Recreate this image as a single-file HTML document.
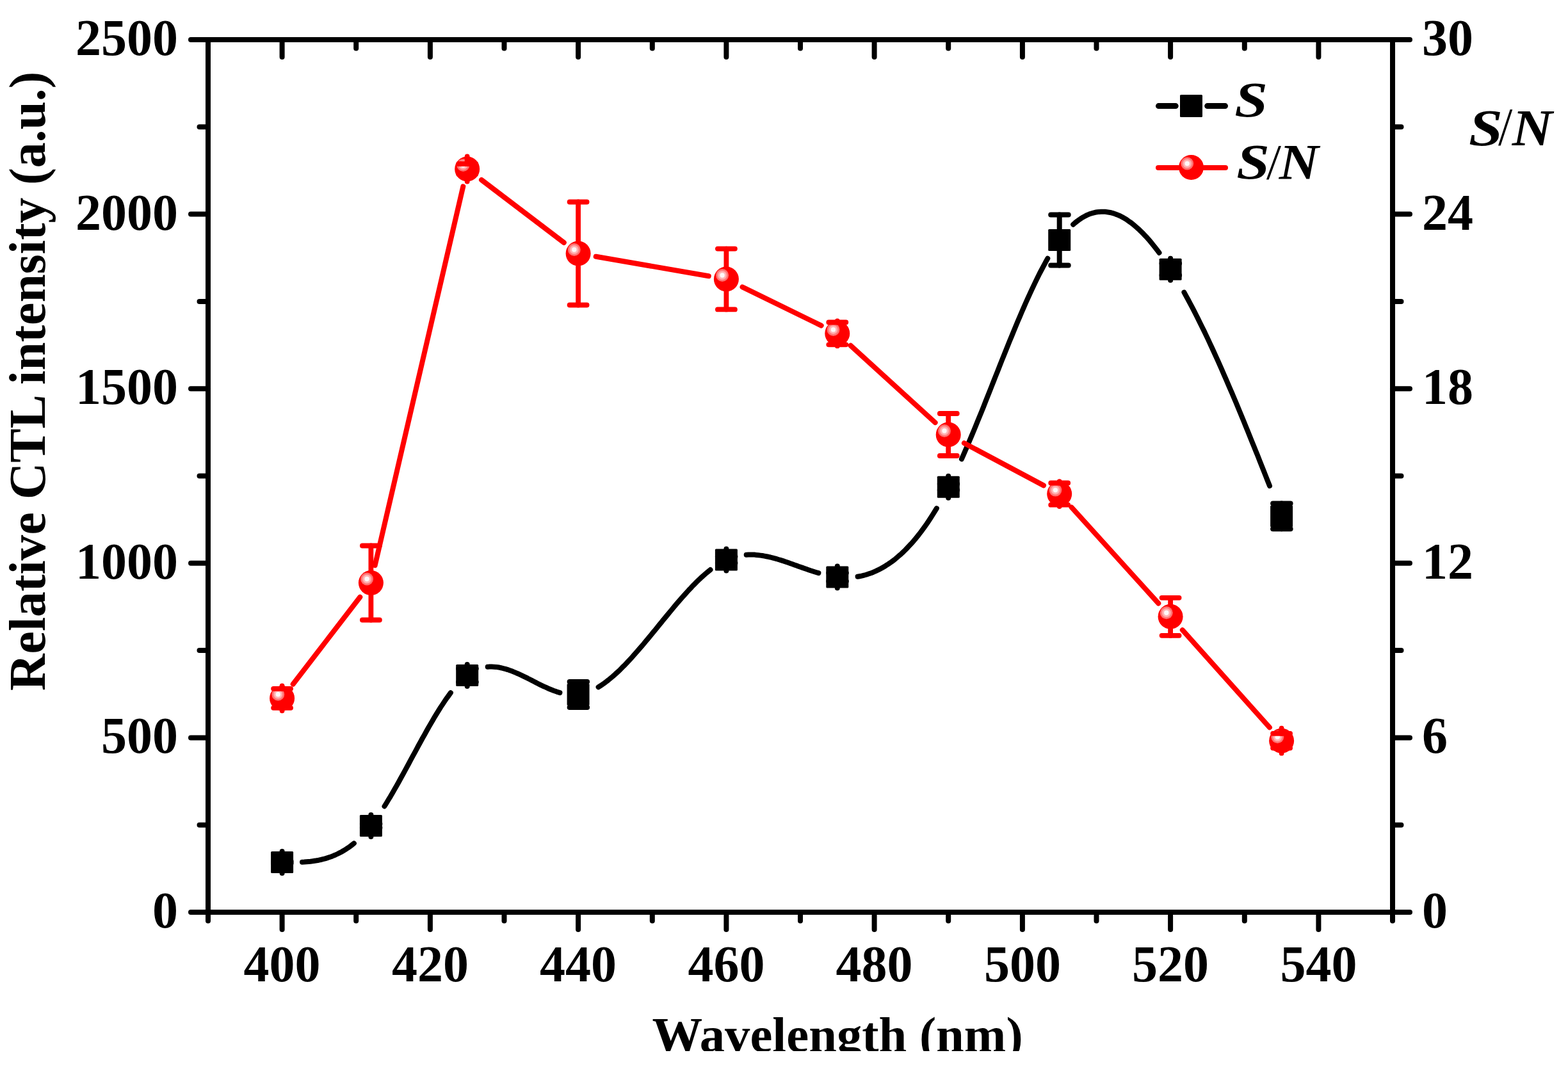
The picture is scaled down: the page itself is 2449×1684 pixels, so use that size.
<!DOCTYPE html>
<html><head><meta charset="utf-8"><title>CTL intensity vs wavelength</title>
<style>
html,body{margin:0;padding:0;background:#fff;}
body{width:2449px;height:1684px;overflow:hidden;}
svg{display:block;}
text{font-family:"Liberation Serif","Times New Roman",serif;font-weight:bold;font-size:80px;fill:#000;}
.it{font-style:italic;}
</style></head><body>
<svg width="2449" height="1684" viewBox="0 0 2449 1684">
<defs><clipPath id="clipb"><rect x="0" y="0" width="2449" height="1642"/></clipPath></defs>
<rect width="2449" height="1684" fill="#fff"/>
<g stroke="#000" stroke-width="8" stroke-linecap="round" fill="none">
<line x1="325" y1="1425.0" x2="298" y2="1425.0"/>
<line x1="325" y1="1288.7" x2="311.5" y2="1288.7"/>
<line x1="325" y1="1152.4" x2="298" y2="1152.4"/>
<line x1="325" y1="1016.1" x2="311.5" y2="1016.1"/>
<line x1="325" y1="879.8" x2="298" y2="879.8"/>
<line x1="325" y1="743.5" x2="311.5" y2="743.5"/>
<line x1="325" y1="607.2" x2="298" y2="607.2"/>
<line x1="325" y1="470.9" x2="311.5" y2="470.9"/>
<line x1="325" y1="334.6" x2="298" y2="334.6"/>
<line x1="325" y1="198.3" x2="311.5" y2="198.3"/>
<line x1="325" y1="62.0" x2="298" y2="62.0"/>
<line x1="2175" y1="1425.0" x2="2202" y2="1425.0"/>
<line x1="2175" y1="1288.7" x2="2188.5" y2="1288.7"/>
<line x1="2175" y1="1152.4" x2="2202" y2="1152.4"/>
<line x1="2175" y1="1016.1" x2="2188.5" y2="1016.1"/>
<line x1="2175" y1="879.8" x2="2202" y2="879.8"/>
<line x1="2175" y1="743.5" x2="2188.5" y2="743.5"/>
<line x1="2175" y1="607.2" x2="2202" y2="607.2"/>
<line x1="2175" y1="470.9" x2="2188.5" y2="470.9"/>
<line x1="2175" y1="334.6" x2="2202" y2="334.6"/>
<line x1="2175" y1="198.3" x2="2188.5" y2="198.3"/>
<line x1="2175" y1="62.0" x2="2202" y2="62.0"/>
<line x1="325.0" y1="1425" x2="325.0" y2="1438.5"/>
<line x1="325.0" y1="62" x2="325.0" y2="75.5"/>
<line x1="440.6" y1="1425" x2="440.6" y2="1452"/>
<line x1="440.6" y1="62" x2="440.6" y2="89"/>
<line x1="556.2" y1="1425" x2="556.2" y2="1438.5"/>
<line x1="556.2" y1="62" x2="556.2" y2="75.5"/>
<line x1="671.9" y1="1425" x2="671.9" y2="1452"/>
<line x1="671.9" y1="62" x2="671.9" y2="89"/>
<line x1="787.5" y1="1425" x2="787.5" y2="1438.5"/>
<line x1="787.5" y1="62" x2="787.5" y2="75.5"/>
<line x1="903.1" y1="1425" x2="903.1" y2="1452"/>
<line x1="903.1" y1="62" x2="903.1" y2="89"/>
<line x1="1018.8" y1="1425" x2="1018.8" y2="1438.5"/>
<line x1="1018.8" y1="62" x2="1018.8" y2="75.5"/>
<line x1="1134.4" y1="1425" x2="1134.4" y2="1452"/>
<line x1="1134.4" y1="62" x2="1134.4" y2="89"/>
<line x1="1250.0" y1="1425" x2="1250.0" y2="1438.5"/>
<line x1="1250.0" y1="62" x2="1250.0" y2="75.5"/>
<line x1="1365.6" y1="1425" x2="1365.6" y2="1452"/>
<line x1="1365.6" y1="62" x2="1365.6" y2="89"/>
<line x1="1481.2" y1="1425" x2="1481.2" y2="1438.5"/>
<line x1="1481.2" y1="62" x2="1481.2" y2="75.5"/>
<line x1="1596.9" y1="1425" x2="1596.9" y2="1452"/>
<line x1="1596.9" y1="62" x2="1596.9" y2="89"/>
<line x1="1712.5" y1="1425" x2="1712.5" y2="1438.5"/>
<line x1="1712.5" y1="62" x2="1712.5" y2="75.5"/>
<line x1="1828.1" y1="1425" x2="1828.1" y2="1452"/>
<line x1="1828.1" y1="62" x2="1828.1" y2="89"/>
<line x1="1943.8" y1="1425" x2="1943.8" y2="1438.5"/>
<line x1="1943.8" y1="62" x2="1943.8" y2="75.5"/>
<line x1="2059.4" y1="1425" x2="2059.4" y2="1452"/>
<line x1="2059.4" y1="62" x2="2059.4" y2="89"/>
<line x1="2175.0" y1="1425" x2="2175.0" y2="1438.5"/>
<line x1="2175.0" y1="62" x2="2175.0" y2="75.5"/>
</g>
<rect x="325" y="62" width="1850" height="1363" fill="none" stroke="#000" stroke-width="8"/>
<g style="font-size:81px"><text x="278" y="1449.0" text-anchor="end">0</text>
<text x="278" y="1176.4" text-anchor="end">500</text>
<text x="278" y="903.8" text-anchor="end">1000</text>
<text x="278" y="631.2" text-anchor="end">1500</text>
<text x="278" y="358.6" text-anchor="end">2000</text>
<text x="278" y="86.0" text-anchor="end">2500</text>
<text x="2221" y="1449.0">0</text>
<text x="2221" y="1176.4">6</text>
<text x="2221" y="903.8">12</text>
<text x="2221" y="631.2">18</text>
<text x="2221" y="358.6">24</text>
<text x="2221" y="86.0">30</text>
<text x="440.6" y="1532.5" text-anchor="middle">400</text>
<text x="671.9" y="1532.5" text-anchor="middle">420</text>
<text x="903.1" y="1532.5" text-anchor="middle">440</text>
<text x="1134.4" y="1532.5" text-anchor="middle">460</text>
<text x="1365.6" y="1532.5" text-anchor="middle">480</text>
<text x="1596.9" y="1532.5" text-anchor="middle">500</text>
<text x="1828.1" y="1532.5" text-anchor="middle">520</text>
<text x="2059.4" y="1532.5" text-anchor="middle">540</text></g>
<text x="0" y="0" transform="translate(70,1079) rotate(-90)" style="font-size:79.7px">Relative CTL intensity (a.u.)</text>
<g clip-path="url(#clipb)"><text x="1308" y="1642.5" text-anchor="middle" style="font-size:78.7px">Wavelength (nm)</text></g>
<text class="it" transform="translate(2294.12,227.20) scale(1.1894,1.0056)">S</text><text class="it" transform="translate(2343.22,227.16) scale(0.6707,1.0514)">/</text><text class="it" transform="translate(2361.66,227.20) scale(1.0905,0.9981)">N</text>
<!-- S series -->
<g stroke="#000" stroke-width="8" stroke-linecap="round" stroke-linejoin="round" fill="none">
<polyline points="472.0,1346.7 475.2,1346.6 478.5,1346.3 481.7,1346.0 484.9,1345.7 488.2,1345.3 491.4,1344.8 494.6,1344.3 497.9,1343.7 501.1,1343.0 504.3,1342.2 507.6,1341.4 510.8,1340.4 514.0,1339.3 517.3,1338.2 520.5,1336.9 523.8,1335.5 527.0,1334.0 530.2,1332.4 533.5,1330.7 536.7,1328.8 539.9,1326.8 543.2,1324.7 546.4,1322.4 549.6,1320.0 552.9,1317.4"/>
<polyline points="600.5,1259.5 603.6,1254.5 606.7,1249.3 609.9,1244.1 613.0,1238.7 616.1,1233.3 619.3,1227.8 622.4,1222.2 625.5,1216.5 628.7,1210.8 631.8,1205.1 634.9,1199.3 638.1,1193.5 641.2,1187.7 644.3,1181.9 647.5,1176.1 650.6,1170.3 653.7,1164.5 656.9,1158.8 660.0,1153.0 663.2,1147.4 666.3,1141.8 669.4,1136.2 672.6,1130.8 675.7,1125.4 678.8,1120.1 682.0,1114.9 685.1,1109.9 688.2,1104.9 691.4,1100.1 694.5,1095.4 697.6,1090.8 700.8,1086.5 703.9,1082.2"/>
<polyline points="761.7,1041.8 764.8,1041.6 768.0,1041.6 771.1,1041.7 774.2,1041.9 777.3,1042.3 780.5,1042.8 783.6,1043.5 786.7,1044.3 789.9,1045.1 793.0,1046.1 796.1,1047.2 799.3,1048.3 802.4,1049.6 805.5,1050.9 808.6,1052.2 811.8,1053.7 814.9,1055.1 818.0,1056.6 821.2,1058.2 824.3,1059.7 827.4,1061.3 830.6,1062.9 833.7,1064.5 836.8,1066.1 839.9,1067.7 843.1,1069.3 846.2,1070.8 849.3,1072.3 852.5,1073.7 855.6,1075.2 858.7,1076.5 861.9,1077.8 865.0,1079.0 868.1,1080.1 871.2,1081.2 874.4,1082.1"/>
<polyline points="934.6,1073.3 937.7,1071.3 940.8,1069.3 943.8,1067.2 946.9,1064.9 950.0,1062.5 953.0,1060.0 956.1,1057.5 959.2,1054.8 962.2,1052.0 965.3,1049.2 968.4,1046.3 971.4,1043.2 974.5,1040.2 977.6,1037.0 980.6,1033.8 983.7,1030.5 986.8,1027.1 989.8,1023.7 992.9,1020.2 996.0,1016.7 999.0,1013.2 1002.1,1009.6 1005.2,1006.0 1008.2,1002.3 1011.3,998.6 1014.4,994.9 1017.4,991.2 1020.5,987.4 1023.6,983.7 1026.6,979.9 1029.7,976.1 1032.8,972.4 1035.8,968.6 1038.9,964.9 1042.0,961.1 1045.0,957.4 1048.1,953.7 1051.2,950.0 1054.2,946.3 1057.3,942.7 1060.4,939.1 1063.4,935.6 1066.5,932.1 1069.6,928.7 1072.6,925.3 1075.7,921.9 1078.8,918.7 1081.8,915.4 1084.9,912.3 1088.0,909.2 1091.1,906.2 1094.1,903.3 1097.2,900.5 1100.3,897.8 1103.3,895.1 1106.4,892.6 1109.5,890.1"/>
<polyline points="1165.7,866.7 1168.8,866.5 1172.0,866.5 1175.1,866.5 1178.2,866.6 1181.3,866.9 1184.5,867.2 1187.6,867.6 1190.7,868.0 1193.9,868.6 1197.0,869.2 1200.1,869.8 1203.3,870.5 1206.4,871.3 1209.5,872.2 1212.7,873.0 1215.8,874.0 1218.9,874.9 1222.0,875.9 1225.2,876.9 1228.3,878.0 1231.4,879.1 1234.6,880.2 1237.7,881.3 1240.8,882.4 1244.0,883.5 1247.1,884.7 1250.2,885.8 1253.4,886.9 1256.5,888.0 1259.6,889.1 1262.8,890.2 1265.9,891.3 1269.0,892.3 1272.1,893.3 1275.3,894.3 1278.4,895.2"/>
<polyline points="1339.6,900.8 1342.7,900.2 1345.8,899.6 1348.8,898.8 1351.9,898.0 1355.0,897.1 1358.1,896.0 1361.2,894.9 1364.3,893.7 1367.3,892.4 1370.4,890.9 1373.5,889.4 1376.6,887.8 1379.7,886.0 1382.7,884.2 1385.8,882.2 1388.9,880.1 1392.0,878.0 1395.1,875.7 1398.2,873.3 1401.2,870.8 1404.3,868.1 1407.4,865.4 1410.5,862.5 1413.6,859.5 1416.6,856.4 1419.7,853.1 1422.8,849.8 1425.9,846.3 1429.0,842.7 1432.0,838.9 1435.1,835.1 1438.2,831.1 1441.3,826.9 1444.4,822.6 1447.5,818.2 1450.5,813.7 1453.6,809.0 1456.7,804.2 1459.8,799.2 1462.9,794.1"/>
<polyline points="1501.9,717.1 1505.0,710.1 1508.1,702.9 1511.3,695.6 1514.4,688.3 1517.5,680.9 1520.7,673.3 1523.8,665.8 1526.9,658.1 1530.0,650.4 1533.2,642.7 1536.3,634.9 1539.4,627.0 1542.5,619.2 1545.7,611.3 1548.8,603.4 1551.9,595.5 1555.0,587.6 1558.2,579.7 1561.3,571.8 1564.4,563.9 1567.6,556.1 1570.7,548.3 1573.8,540.5 1576.9,532.8 1580.1,525.1 1583.2,517.5 1586.3,510.0 1589.4,502.5 1592.6,495.1 1595.7,487.8 1598.8,480.6 1601.9,473.5 1605.1,466.4 1608.2,459.6 1611.3,452.8 1614.5,446.1 1617.6,439.6 1620.7,433.3 1623.8,427.0 1627.0,421.0 1630.1,415.1 1633.2,409.3 1636.3,403.8"/>
<polyline points="1676.1,350.7 1679.2,348.0 1682.4,345.5 1685.5,343.2 1688.6,341.1 1691.7,339.2 1694.9,337.5 1698.0,335.9 1701.1,334.6 1704.2,333.5 1707.4,332.6 1710.5,331.8 1713.6,331.3 1716.7,330.9 1719.9,330.7 1723.0,330.7 1726.1,330.8 1729.2,331.2 1732.4,331.7 1735.5,332.3 1738.6,333.2 1741.8,334.2 1744.9,335.4 1748.0,336.7 1751.1,338.2 1754.3,339.9 1757.4,341.7 1760.5,343.7 1763.6,345.9 1766.8,348.1 1769.9,350.6 1773.0,353.2 1776.1,355.9 1779.3,358.8 1782.4,361.8 1785.5,364.9 1788.6,368.2 1791.8,371.6 1794.9,375.2 1798.0,378.9 1801.1,382.7 1804.3,386.7 1807.4,390.7 1810.5,394.9"/>
<polyline points="1849.4,456.6 1852.5,462.3 1855.6,468.0 1858.7,473.8 1861.8,479.7 1864.9,485.7 1868.0,491.8 1871.1,497.9 1874.2,504.2 1877.3,510.5 1880.5,516.9 1883.6,523.4 1886.7,529.9 1889.8,536.6 1892.9,543.3 1896.0,550.0 1899.1,556.8 1902.2,563.7 1905.3,570.7 1908.4,577.7 1911.5,584.8 1914.6,591.9 1917.7,599.1 1920.8,606.3 1924.0,613.6 1927.1,621.0 1930.2,628.3 1933.3,635.8 1936.4,643.2 1939.5,650.8 1942.6,658.3 1945.7,665.9 1948.8,673.5 1951.9,681.2 1955.0,688.9 1958.1,696.6 1961.2,704.3 1964.4,712.1 1967.5,719.9 1970.6,727.7 1973.7,735.5 1976.8,743.4 1979.9,751.3 1983.0,759.1"/>
</g>
<g fill="#000"><rect x="423.1" y="1329.9" width="35" height="34" rx="1.5"/>
<rect x="561.9" y="1272.9" width="35" height="34" rx="1.5"/>
<rect x="712.2" y="1037.9" width="35" height="34" rx="1.5"/>
<rect x="885.6" y="1068.0" width="35" height="34" rx="1.5"/>
<rect x="1116.9" y="857.5" width="35" height="34" rx="1.5"/>
<rect x="1290.3" y="884.5" width="35" height="34" rx="1.5"/>
<rect x="1463.8" y="743.7" width="35" height="34" rx="1.5"/>
<rect x="1637.2" y="358.0" width="35" height="34" rx="1.5"/>
<rect x="1810.6" y="403.8" width="35" height="34" rx="1.5"/>
<rect x="1984.1" y="789.4" width="35" height="34" rx="1.5"/></g>
<g stroke="#000" stroke-width="8" stroke-linecap="round" fill="none"><line x1="440.6" y1="1329.9" x2="440.6" y2="1345.4"/><line x1="440.6" y1="1363.9" x2="440.6" y2="1348.4"/>
<line x1="427.1" y1="1345.4" x2="454.6" y2="1345.4"/><line x1="427.1" y1="1348.4" x2="454.6" y2="1348.4"/>
<line x1="579.4" y1="1272.9" x2="579.4" y2="1286.9"/><line x1="579.4" y1="1306.9" x2="579.4" y2="1292.9"/>
<line x1="565.9" y1="1286.9" x2="593.4" y2="1286.9"/><line x1="565.9" y1="1292.9" x2="593.4" y2="1292.9"/>
<line x1="729.7" y1="1037.9" x2="729.7" y2="1044.4"/><line x1="729.7" y1="1071.9" x2="729.7" y2="1065.4"/>
<line x1="716.2" y1="1044.4" x2="743.7" y2="1044.4"/><line x1="716.2" y1="1065.4" x2="743.7" y2="1065.4"/>
<line x1="903.1" y1="1068.0" x2="903.1" y2="1065.0"/><line x1="903.1" y1="1102.0" x2="903.1" y2="1105.0"/>
<line x1="889.6" y1="1065.0" x2="917.1" y2="1065.0"/><line x1="889.6" y1="1105.0" x2="917.1" y2="1105.0"/>
<line x1="1134.4" y1="857.5" x2="1134.4" y2="869.5"/><line x1="1134.4" y1="891.5" x2="1134.4" y2="879.5"/>
<line x1="1120.9" y1="869.5" x2="1148.4" y2="869.5"/><line x1="1120.9" y1="879.5" x2="1148.4" y2="879.5"/>
<line x1="1307.8" y1="884.5" x2="1307.8" y2="895.0"/><line x1="1307.8" y1="918.5" x2="1307.8" y2="908.0"/>
<line x1="1294.3" y1="895.0" x2="1321.8" y2="895.0"/><line x1="1294.3" y1="908.0" x2="1321.8" y2="908.0"/>
<line x1="1481.2" y1="743.7" x2="1481.2" y2="755.9"/><line x1="1481.2" y1="777.7" x2="1481.2" y2="765.5"/>
<line x1="1467.8" y1="755.9" x2="1495.2" y2="755.9"/><line x1="1467.8" y1="765.5" x2="1495.2" y2="765.5"/>
<line x1="1654.7" y1="358.0" x2="1654.7" y2="335.5"/><line x1="1654.7" y1="392.0" x2="1654.7" y2="414.5"/>
<line x1="1641.2" y1="335.5" x2="1668.7" y2="335.5"/><line x1="1641.2" y1="414.5" x2="1668.7" y2="414.5"/>
<line x1="1828.1" y1="403.8" x2="1828.1" y2="411.5"/><line x1="1828.1" y1="437.8" x2="1828.1" y2="430.1"/>
<line x1="1814.6" y1="411.5" x2="1842.1" y2="411.5"/><line x1="1814.6" y1="430.1" x2="1842.1" y2="430.1"/>
<line x1="2001.6" y1="789.4" x2="2001.6" y2="786.5"/><line x1="2001.6" y1="823.4" x2="2001.6" y2="826.3"/>
<line x1="1988.1" y1="786.5" x2="2015.6" y2="786.5"/><line x1="1988.1" y1="826.3" x2="2015.6" y2="826.3"/></g>
<!-- S/N series -->
<g stroke="#ff0000" stroke-width="8" stroke-linecap="round" fill="none">
<line x1="457.7" y1="1068.7" x2="562.3" y2="932.7"/>
<line x1="585.7" y1="883.2" x2="723.3" y2="291.3"/>
<line x1="752.0" y1="281.0" x2="880.8" y2="379.0"/>
<line x1="930.7" y1="400.8" x2="1106.8" y2="431.2"/>
<line x1="1159.5" y1="448.3" x2="1282.7" y2="508.6"/>
<line x1="1328.5" y1="539.8" x2="1460.6" y2="660.1"/>
<line x1="1505.9" y1="692.2" x2="1630.0" y2="758.4"/>
<line x1="1673.5" y1="792.4" x2="1809.3" y2="942.5"/>
<line x1="1846.8" y1="984.2" x2="1982.9" y2="1136.3"/>
</g>
<g><circle cx="440.6" cy="1090.8" r="19.5" fill="#ff0000"/><circle cx="434.3" cy="1084.8" r="10" fill="#ff6b6b"/><circle cx="434.3" cy="1084.8" r="8.6" fill="#ff7a7a"/><circle cx="434.3" cy="1084.8" r="7" fill="#ffaaaa"/><circle cx="434.3" cy="1084.8" r="5.6" fill="#ffb9b9"/><circle cx="434.3" cy="1084.8" r="3.7" fill="#fff8f8"/>
<circle cx="579.4" cy="910.5" r="19.5" fill="#ff0000"/><circle cx="573.1" cy="904.5" r="10" fill="#ff6b6b"/><circle cx="573.1" cy="904.5" r="8.6" fill="#ff7a7a"/><circle cx="573.1" cy="904.5" r="7" fill="#ffaaaa"/><circle cx="573.1" cy="904.5" r="5.6" fill="#ffb9b9"/><circle cx="573.1" cy="904.5" r="3.7" fill="#fff8f8"/>
<circle cx="729.7" cy="264.0" r="19.5" fill="#ff0000"/><circle cx="723.4" cy="258.0" r="10" fill="#ff6b6b"/><circle cx="723.4" cy="258.0" r="8.6" fill="#ff7a7a"/><circle cx="723.4" cy="258.0" r="7" fill="#ffaaaa"/><circle cx="723.4" cy="258.0" r="5.6" fill="#ffb9b9"/><circle cx="723.4" cy="258.0" r="3.7" fill="#fff8f8"/>
<circle cx="903.1" cy="396.0" r="19.5" fill="#ff0000"/><circle cx="896.8" cy="390.0" r="10" fill="#ff6b6b"/><circle cx="896.8" cy="390.0" r="8.6" fill="#ff7a7a"/><circle cx="896.8" cy="390.0" r="7" fill="#ffaaaa"/><circle cx="896.8" cy="390.0" r="5.6" fill="#ffb9b9"/><circle cx="896.8" cy="390.0" r="3.7" fill="#fff8f8"/>
<circle cx="1134.4" cy="436.0" r="19.5" fill="#ff0000"/><circle cx="1128.1" cy="430.0" r="10" fill="#ff6b6b"/><circle cx="1128.1" cy="430.0" r="8.6" fill="#ff7a7a"/><circle cx="1128.1" cy="430.0" r="7" fill="#ffaaaa"/><circle cx="1128.1" cy="430.0" r="5.6" fill="#ffb9b9"/><circle cx="1128.1" cy="430.0" r="3.7" fill="#fff8f8"/>
<circle cx="1307.8" cy="520.9" r="19.5" fill="#ff0000"/><circle cx="1301.5" cy="514.9" r="10" fill="#ff6b6b"/><circle cx="1301.5" cy="514.9" r="8.6" fill="#ff7a7a"/><circle cx="1301.5" cy="514.9" r="7" fill="#ffaaaa"/><circle cx="1301.5" cy="514.9" r="5.6" fill="#ffb9b9"/><circle cx="1301.5" cy="514.9" r="3.7" fill="#fff8f8"/>
<circle cx="1481.2" cy="679.0" r="19.5" fill="#ff0000"/><circle cx="1475.0" cy="673.0" r="10" fill="#ff6b6b"/><circle cx="1475.0" cy="673.0" r="8.6" fill="#ff7a7a"/><circle cx="1475.0" cy="673.0" r="7" fill="#ffaaaa"/><circle cx="1475.0" cy="673.0" r="5.6" fill="#ffb9b9"/><circle cx="1475.0" cy="673.0" r="3.7" fill="#fff8f8"/>
<circle cx="1654.7" cy="771.6" r="19.5" fill="#ff0000"/><circle cx="1648.4" cy="765.6" r="10" fill="#ff6b6b"/><circle cx="1648.4" cy="765.6" r="8.6" fill="#ff7a7a"/><circle cx="1648.4" cy="765.6" r="7" fill="#ffaaaa"/><circle cx="1648.4" cy="765.6" r="5.6" fill="#ffb9b9"/><circle cx="1648.4" cy="765.6" r="3.7" fill="#fff8f8"/>
<circle cx="1828.1" cy="963.3" r="19.5" fill="#ff0000"/><circle cx="1821.8" cy="957.3" r="10" fill="#ff6b6b"/><circle cx="1821.8" cy="957.3" r="8.6" fill="#ff7a7a"/><circle cx="1821.8" cy="957.3" r="7" fill="#ffaaaa"/><circle cx="1821.8" cy="957.3" r="5.6" fill="#ffb9b9"/><circle cx="1821.8" cy="957.3" r="3.7" fill="#fff8f8"/>
<circle cx="2001.6" cy="1157.2" r="19.5" fill="#ff0000"/><circle cx="1995.3" cy="1151.2" r="10" fill="#ff6b6b"/><circle cx="1995.3" cy="1151.2" r="8.6" fill="#ff7a7a"/><circle cx="1995.3" cy="1151.2" r="7" fill="#ffaaaa"/><circle cx="1995.3" cy="1151.2" r="5.6" fill="#ffb9b9"/><circle cx="1995.3" cy="1151.2" r="3.7" fill="#fff8f8"/></g>
<g stroke="#ff0000" stroke-width="7.8" stroke-linecap="round" fill="none"><line x1="440.6" y1="1071.3" x2="440.6" y2="1075.8"/><line x1="440.6" y1="1110.3" x2="440.6" y2="1105.8"/>
<line x1="427.1" y1="1075.8" x2="454.1" y2="1075.8"/><line x1="427.1" y1="1105.8" x2="454.1" y2="1105.8"/>
<line x1="579.4" y1="891.0" x2="579.4" y2="852.5"/><line x1="579.4" y1="930.0" x2="579.4" y2="968.5"/>
<line x1="565.9" y1="852.5" x2="592.9" y2="852.5"/><line x1="565.9" y1="968.5" x2="592.9" y2="968.5"/>
<line x1="729.7" y1="244.5" x2="729.7" y2="256.0"/><line x1="729.7" y1="283.5" x2="729.7" y2="272.0"/>
<line x1="716.2" y1="256.0" x2="743.2" y2="256.0"/><line x1="716.2" y1="272.0" x2="743.2" y2="272.0"/>
<line x1="903.1" y1="376.5" x2="903.1" y2="315.5"/><line x1="903.1" y1="415.5" x2="903.1" y2="476.5"/>
<line x1="889.6" y1="315.5" x2="916.6" y2="315.5"/><line x1="889.6" y1="476.5" x2="916.6" y2="476.5"/>
<line x1="1134.4" y1="416.5" x2="1134.4" y2="388.6"/><line x1="1134.4" y1="455.5" x2="1134.4" y2="483.4"/>
<line x1="1120.9" y1="388.6" x2="1147.9" y2="388.6"/><line x1="1120.9" y1="483.4" x2="1147.9" y2="483.4"/>
<line x1="1307.8" y1="501.4" x2="1307.8" y2="503.5"/><line x1="1307.8" y1="540.4" x2="1307.8" y2="538.3"/>
<line x1="1294.3" y1="503.5" x2="1321.3" y2="503.5"/><line x1="1294.3" y1="538.3" x2="1321.3" y2="538.3"/>
<line x1="1481.2" y1="659.5" x2="1481.2" y2="646.0"/><line x1="1481.2" y1="698.5" x2="1481.2" y2="712.0"/>
<line x1="1467.8" y1="646.0" x2="1494.8" y2="646.0"/><line x1="1467.8" y1="712.0" x2="1494.8" y2="712.0"/>
<line x1="1654.7" y1="752.1" x2="1654.7" y2="754.5"/><line x1="1654.7" y1="791.1" x2="1654.7" y2="788.7"/>
<line x1="1641.2" y1="754.5" x2="1668.2" y2="754.5"/><line x1="1641.2" y1="788.7" x2="1668.2" y2="788.7"/>
<line x1="1828.1" y1="943.8" x2="1828.1" y2="933.8"/><line x1="1828.1" y1="982.8" x2="1828.1" y2="992.8"/>
<line x1="1814.6" y1="933.8" x2="1841.6" y2="933.8"/><line x1="1814.6" y1="992.8" x2="1841.6" y2="992.8"/>
<line x1="2001.6" y1="1137.7" x2="2001.6" y2="1145.8"/><line x1="2001.6" y1="1176.7" x2="2001.6" y2="1168.6"/>
<line x1="1988.1" y1="1145.8" x2="2015.1" y2="1145.8"/><line x1="1988.1" y1="1168.6" x2="2015.1" y2="1168.6"/></g>
<!-- legend -->
<g stroke="#000" stroke-width="9" stroke-linecap="round"><line x1="1809.5" y1="165.6" x2="1836.2" y2="165.6"/><line x1="1885.7" y1="165.6" x2="1913.5" y2="165.6"/></g>
<rect x="1843" y="148" width="35" height="35" rx="1.5" fill="#000"/>
<text class="it" transform="translate(1928.26,182.11) scale(1.1616,0.9851)">S</text>
<g stroke="#ff0000" stroke-width="8" stroke-linecap="round"><line x1="1809" y1="262" x2="1840" y2="262"/><line x1="1881" y1="262" x2="1914" y2="262"/></g>
<circle cx="1860.5" cy="261.5" r="19.5" fill="#ff0000"/><circle cx="1854.2" cy="255.5" r="10" fill="#ff6b6b"/><circle cx="1854.2" cy="255.5" r="8.6" fill="#ff7a7a"/><circle cx="1854.2" cy="255.5" r="7" fill="#ffaaaa"/><circle cx="1854.2" cy="255.5" r="5.6" fill="#ffb9b9"/><circle cx="1854.2" cy="255.5" r="3.7" fill="#fff8f8"/>
<text class="it" transform="translate(1931.26,279.21) scale(1.1616,0.9898)">S</text><text class="it" transform="translate(1981.34,278.91) scale(0.6949,0.9869)">/</text><text class="it" transform="translate(1997.65,278.75) scale(1.0740,0.9685)">N</text>
</svg>
</body></html>
